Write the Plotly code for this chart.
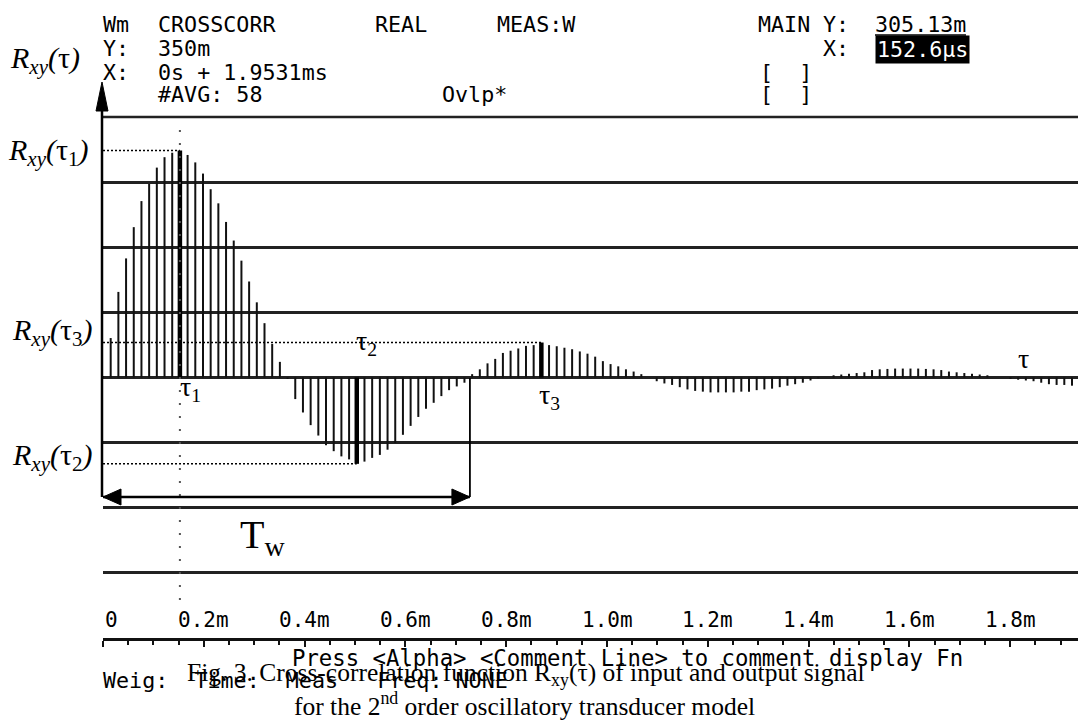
import plotly.graph_objects as go

# ---------------- data ----------------
span_ms = 1.9531            # record length shown by the analyzer (X: 0s + 1.9531ms)
n_samples = 128
dt_ms = span_ms / n_samples  # sample interval

# cross-correlation samples R_xy (in milli-units)
rxy_pos1 = [2, 53, 115, 160, 202, 237, 260, 282, 296, 302, 305.13, 299, 289, 274, 253,
            234, 209, 184, 157, 129, 101, 73, 45, 21, -2]
rxy_neg1 = [-29, -47, -64, -78, -91, -99, -106, -110, -116, -113, -108, -104, -97, -88,
            -77, -65, -53, -42, -34, -25, -17, -12, -7]
rxy_pos2 = [4.5, 11, 19, 25, 33, 36, 39, 42.5, 43.5, 47, 43.5, 42, 40, 38, 35, 32, 28,
            22, 18, 15, 11, 8, 4.5, 0]
rxy_neg2 = [-5, -8, -10, -13, -16, -18, -19, -20, -20, -20, -20, -19, -19, -17, -16, -15,
            -13, -11, -9, -7, -4]
rxy_tail = [-1, 0, 3, 4, 5, 6, 7, 10, 11, 11.5, 12, 12, 12, 12, 11.5, 11, 10, 8, 7, 6, 5,
            4, 3, 0, 0, -2, -3, -4, -5, -7, -9, -10, -10, -11, -11]
rxy = rxy_pos1 + rxy_neg1 + rxy_pos2 + rxy_neg2 + rxy_tail
times = [i * dt_ms for i in range(len(rxy))]

tau_index = [10, 33, 57]           # tau1, tau2, tau3 sample indices (bold stems)
Tw_ms = 0.728                      # end of the T_w window

tick_vals = [0, 0.2, 0.4, 0.6, 0.8, 1.0, 1.2, 1.4, 1.6, 1.8]
tick_labels = ["0", "0.2m", "0.4m", "0.6m", "0.8m", "1.0m", "1.2m", "1.4m", "1.6m", "1.8m"]

y_full = 350       # Y: 350m
y_div = 87.5       # 8 divisions
x_view = 1.9345    # visible part of the time axis (ms)

# ---------------- layout helpers ----------------
L, T, W, H = 103, 117, 975, 521
def px(x):
    return (x - L) / W
def py(y):
    return (T + H - y) / H

MONO = "DejaVu Sans Mono"
SERIF = "Liberation Serif"
INK = "#111111"
MS = 21.7

fig = go.Figure()

# stems
xs, ys, xb, yb = [], [], [], []
for i, (t, v) in enumerate(zip(times, rxy)):
    if i in tau_index:
        xb += [t, t, None]
        yb += [0, v, None]
    else:
        xs += [t, t, None]
        ys += [0, v, None]
fig.add_trace(go.Scatter(x=xs, y=ys, mode="lines", line=dict(color=INK, width=2),
                         hoverinfo="skip", showlegend=False))
fig.add_trace(go.Scatter(x=xb, y=yb, mode="lines", line=dict(color="#000", width=4.5),
                         hoverinfo="skip", showlegend=False))

shapes = []
# top graticule line (range edge)
shapes.append(dict(type="line", xref="paper", yref="paper", x0=0, x1=1, y0=1, y1=1,
                   line=dict(color="#222", width=2.5)))
# dotted reference lines to R(tau1), R(tau2), R(tau3)
for k in tau_index:
    shapes.append(dict(type="line", xref="x", yref="y", x0=0, x1=times[k],
                       y0=rxy[k], y1=rxy[k],
                       line=dict(color="#000", width=1.5, dash="2px,2px")))
# vertical dotted line through tau1
shapes.append(dict(type="line", xref="x", yref="paper", x0=times[tau_index[0]],
                   x1=times[tau_index[0]], y0=py(600), y1=py(125),
                   line=dict(color="#555", width=2, dash="2px,11px")))
# vertical axis with arrow
shapes.append(dict(type="line", xref="paper", yref="paper", x0=px(102), x1=px(102),
                   y0=py(497), y1=py(100), line=dict(color="#000", width=2.5)))
shapes.append(dict(type="path", xref="paper", yref="paper",
                   path=f"M {px(102)},{py(82)} L {px(96)},{py(111)} L {px(108)},{py(111)} Z",
                   fillcolor="#000", line=dict(color="#000", width=1)))
# T_w double arrow
shapes.append(dict(type="line", xref="x", yref="paper", x0=0, x1=Tw_ms,
                   y0=py(497), y1=py(497), line=dict(color="#000", width=2.5)))
shapes.append(dict(type="line", xref="x", yref="paper", x0=Tw_ms, x1=Tw_ms,
                   y0=py(378), y1=py(497), line=dict(color="#000", width=1.8)))
ah = 18 / 504.0
shapes.append(dict(type="path", xref="x", yref="paper",
                   path=f"M 0,{py(497)} L {ah},{py(489)} L {ah},{py(505)} Z",
                   fillcolor="#000", line=dict(color="#000", width=1)))
shapes.append(dict(type="path", xref="x", yref="paper",
                   path=f"M {Tw_ms},{py(497)} L {Tw_ms-ah},{py(489)} L {Tw_ms-ah},{py(505)} Z",
                   fillcolor="#000", line=dict(color="#000", width=1)))
# underline of 305.13m
shapes.append(dict(type="line", xref="paper", yref="paper", x0=px(875), x1=px(966),
                   y0=py(35), y1=py(35), line=dict(color="#000", width=1.5)))

ann = []
def txt(x, y, s, size=MS, font=MONO, anchor="left", **kw):
    ann.append(dict(xref="paper", yref="paper", x=px(x), y=py(y), text=s, showarrow=False,
                    xanchor=anchor, yanchor="middle",
                    font=dict(family=font, size=size, color="#000"), **kw))

NB = "\u00a0"
# analyzer header
txt(101, 25, "Wm")
txt(156, 25, "CROSSCORR")
txt(373, 25, "REAL")
txt(495, 25, "MEAS:W")
txt(756, 25, "MAIN")
txt(821, 25, "Y:")
txt(873, 25, "305.13m")
txt(101, 48, "Y:")
txt(156, 48, "350m")
txt(821, 48, "X:")
ann.append(dict(xref="paper", yref="paper", x=px(875), y=py(50), text="152.6µs",
                showarrow=False, xanchor="left", yanchor="middle", bgcolor="#000",
                borderpad=1, font=dict(family=MONO, size=MS, color="#fff")))
txt(101, 72, "X:")
txt(156, 72, "0s + 1.9531ms")
txt(758, 72, "[" + NB * 2 + "]")
txt(156, 94, "#AVG: 58")
txt(440, 94, "Ovlp*")
txt(758, 94, "[" + NB * 2 + "]")

# time-axis labels (inside the display, above the axis line)
for v, s in zip(tick_vals, tick_labels):
    ann.append(dict(xref="x", yref="paper", x=v, y=py(620), text=s, showarrow=False,
                    xanchor="left" if v == 0 else "center", yanchor="middle",
                    font=dict(family=MONO, size=21, color="#000")))

# bottom status lines
txt(290, 658, "Press &lt;Alpha&gt; &lt;Comment Line&gt; to comment display Fn", size=22.3)
txt(101, 680, "Weig:" + NB * 2 + "Time:" + NB * 2 + "Meas" + NB * 3 + "Freq: NONE")

# caption
txt(526, 674, "Fig. 3. Cross-correlation function R<sub>xy</sub>(τ) of input and output signal",
    size=25.5, font=SERIF, anchor="center")
txt(524, 704, "for the 2<sup>nd</sup> order oscillatory transducer model",
    size=25.5, font=SERIF, anchor="center")

# big math labels
def rlab(sub):
    return "<i>R<sub>xy</sub>(</i>τ" + (f"<sub>{sub}</sub>" if sub else "") + "<i>)</i>"
txt(8, 60, rlab(""), size=30, font=SERIF)
txt(6, 152, rlab("1"), size=30, font=SERIF)
txt(10, 332, rlab("3"), size=30, font=SERIF)
txt(10, 457, rlab("2"), size=30, font=SERIF)

txt(190, 388, "τ<sub>1</sub>", size=28, font=SERIF, anchor="center")
txt(366, 342, "τ<sub>2</sub>", size=28, font=SERIF, anchor="center")
txt(549, 396, "τ<sub>3</sub>", size=28, font=SERIF, anchor="center")
txt(1023, 358, "τ", size=28, font=SERIF, anchor="center")
txt(262, 537, "T<sub>w</sub>", size=40, font=SERIF, anchor="center")

fig.update_layout(
    width=1078, height=722,
    margin=dict(l=L, r=0, t=T, b=722 - T - H, pad=0, autoexpand=False),
    paper_bgcolor="#fff", plot_bgcolor="#fff",
    shapes=shapes, annotations=ann, showlegend=False,
    xaxis=dict(range=[0, x_view], showgrid=False, zeroline=False,
               showline=True, linecolor=INK, linewidth=3,
               tickmode="array", tickvals=tick_vals, showticklabels=False,
               ticks="outside", ticklen=6, tickwidth=2, tickcolor=INK,
               minor=dict(tickmode="linear", tick0=0, dtick=0.05, ticks="outside",
                          ticklen=4, tickwidth=1.5, tickcolor=INK, showgrid=False),
               fixedrange=True),
    yaxis=dict(range=[-y_full, y_full], tickmode="linear", tick0=0, dtick=y_div,
               showgrid=True, gridcolor="#222", gridwidth=2.5, zeroline=False,
               showline=False, showticklabels=False, ticks="", fixedrange=True),
)

fig.write_html("out.html", config={"displayModeBar": False},
               post_script="document.body.style.margin='0';document.body.style.overflow='hidden';")
